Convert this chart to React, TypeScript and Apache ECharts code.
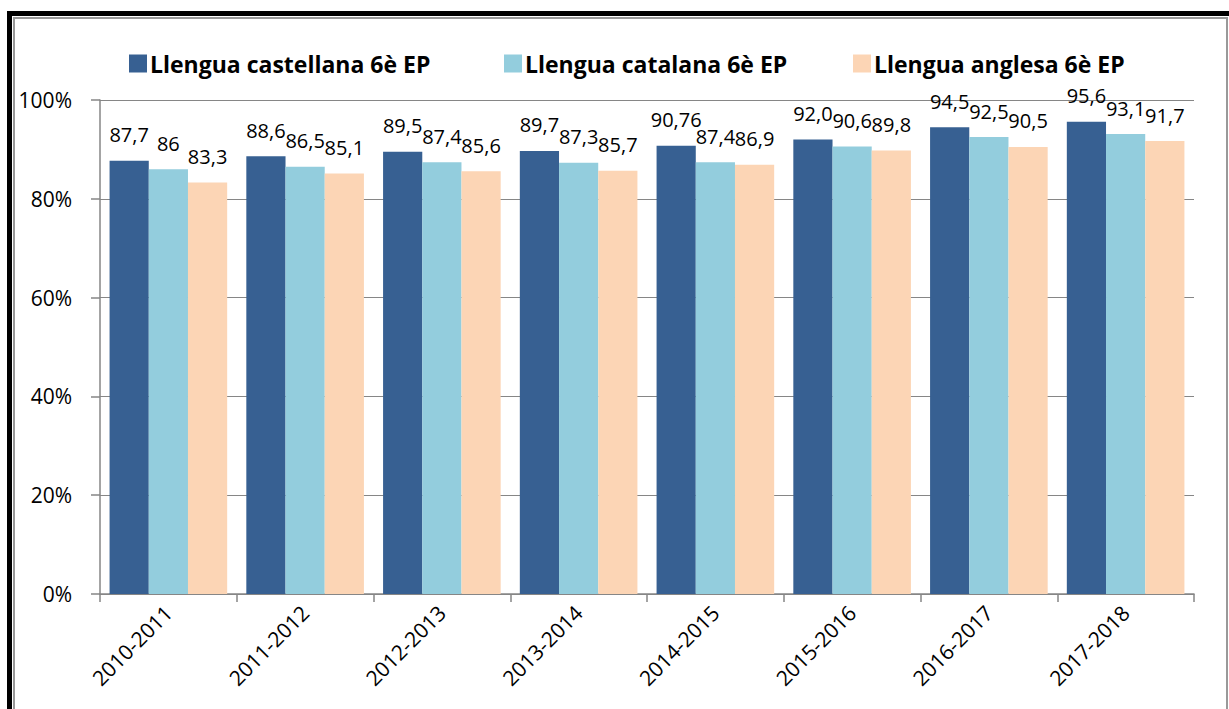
import React, { useEffect, useRef } from "react";
import * as echarts from "echarts";

const categories = ["2010-2011", "2011-2012", "2012-2013", "2013-2014", "2014-2015", "2015-2016", "2016-2017", "2017-2018"];
const seriesNames = ["Llengua castellana 6è EP", "Llengua catalana 6è EP", "Llengua anglesa 6è EP"];
const castellana = [87.7, 88.6, 89.5, 89.7, 90.76, 92.0, 94.5, 95.6];
const catalana = [86, 86.5, 87.4, 87.3, 87.4, 90.6, 92.5, 93.1];
const anglesa = [83.3, 85.1, 85.6, 85.7, 86.9, 89.8, 90.5, 91.7];
const castellanaLabels = ["87,7", "88,6", "89,5", "89,7", "90,76", "92,0", "94,5", "95,6"];
const catalanaLabels = ["86", "86,5", "87,4", "87,3", "87,4", "90,6", "92,5", "93,1"];
const anglesaLabels = ["83,3", "85,1", "85,6", "85,7", "86,9", "89,8", "90,5", "91,7"];
const yTicks = [0, 20, 40, 60, 80, 100];
const colors = ["#376092", "#93CDDD", "#FCD5B5"];
const legendLefts = [124, 499, 848];

export default function App() {
  const ref = useRef<HTMLDivElement>(null);
  useEffect(() => {
    if (!ref.current) return;
    const chart = echarts.init(ref.current, null, { renderer: "svg" });
    const mk = (name: string, data: number[], labels: string[], color: string) => ({
      name,
      type: "bar",
      data,
      barGap: "0%",
      barCategoryGap: "14%",
      itemStyle: { color },
      label: {
        show: true,
        position: "top",
        distance: 16,
        fontFamily: "Open Sans",
        fontSize: 20,
        color: "#000",
        formatter: (p: any) => labels[p.dataIndex],
      },
    });
    chart.setOption({
      animation: false,
      backgroundColor: "#fff",
      color: colors,
      graphic: [
        { type: "rect", shape: { x: 7, y: 11, width: 5, height: 698 }, style: { fill: "#000" } },
        { type: "rect", shape: { x: 7, y: 11, width: 1222, height: 5 }, style: { fill: "#000" } },
        { type: "rect", shape: { x: 13, y: 17, width: 2, height: 692 }, style: { fill: "#999" } },
        { type: "rect", shape: { x: 13, y: 17, width: 1214, height: 2 }, style: { fill: "#999" } },
        { type: "rect", shape: { x: 1226, y: 17, width: 2, height: 692 }, style: { fill: "#999" } },
      ],
      legend: seriesNames.map((n, i) => ({
        left: legendLefts[i],
        top: 47,
        itemWidth: 18,
        itemHeight: 18,
        icon: "rect",
        textStyle: { fontFamily: "Open Sans", fontWeight: "bold", fontSize: 23, color: "#000", padding: [0, 0, 0, -2] },
        data: [n],
      })),
      grid: { left: 100, right: 35, top: 100, bottom: 115 },
      xAxis: {
        type: "category",
        data: categories,
        axisLine: { lineStyle: { color: "#868686", width: 1.5 } },
        axisTick: { show: true, length: 8, lineStyle: { color: "#868686", width: 1.5 } },
        axisLabel: { rotate: 45, fontFamily: "Open Sans", fontSize: 21, color: "#000", margin: 15 },
      },
      yAxis: {
        type: "value",
        min: 0,
        max: 100,
        interval: 20,
        axisLine: { show: true, lineStyle: { color: "#868686", width: 1.5 } },
        axisTick: { show: true, length: 9, lineStyle: { color: "#868686", width: 1.5 } },
        splitLine: { lineStyle: { color: "#868686", width: 1 } },
        axisLabel: {
          fontFamily: "Open Sans",
          fontSize: 21,
          color: "#000",
          margin: 28,
          formatter: (v: number) => (yTicks.includes(v) ? v + "%" : ""),
        },
      },
      series: [
        mk(seriesNames[0], castellana, castellanaLabels, colors[0]),
        mk(seriesNames[1], catalana, catalanaLabels, colors[1]),
        mk(seriesNames[2], anglesa, anglesaLabels, colors[2]),
      ],
    });
    return () => chart.dispose();
  }, []);
  return <div ref={ref} style={{ position: "fixed", left: 0, top: 0, width: 1229, height: 709 }} />;
}
